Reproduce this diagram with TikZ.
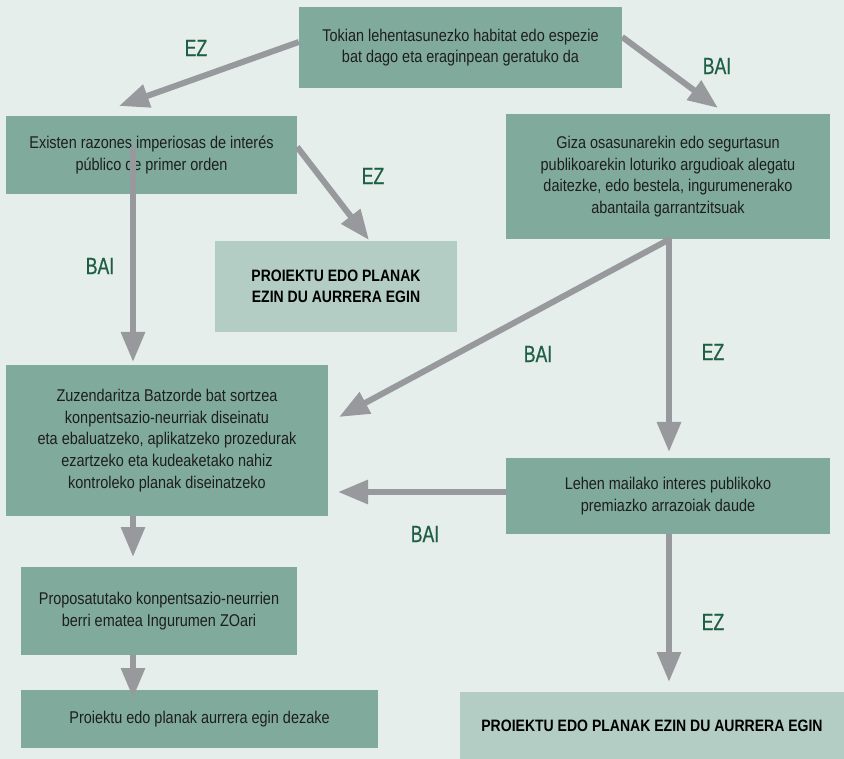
\documentclass[tikz,border=0pt]{standalone}
\usepackage{fontspec}
\setmainfont{Liberation Sans}[FakeStretch=0.85]
\newfontfamily\labfont{Liberation Sans}[FakeStretch=0.75,FakeBold=0.6]
\usetikzlibrary{arrows.meta}
\definecolor{bgc}{HTML}{E5EEEA}
\definecolor{boxc}{HTML}{7FAA9C}
\definecolor{lightc}{HTML}{B3CDC5}
\definecolor{arrc}{HTML}{98999D}
\definecolor{labc}{HTML}{1D5E45}
\definecolor{txtc}{HTML}{1E1E1E}
\begin{document}
\begin{tikzpicture}[x=1pt,y=-1pt,
  box/.style={fill=boxc,draw=none,inner sep=0pt,align=center,text=txtc,
    font=\fontsize{17}{21.7}\selectfont},
  endbox/.style={fill=lightc,draw=none,inner sep=0pt,align=center,text=black,
    font=\fontsize{16.5}{21.5}\selectfont\bfseries},
  lab/.style={text=labc,font=\labfont\fontsize{23.5}{23.5}\selectfont,inner sep=0pt},
  arr/.style={draw=arrc,line width=6pt,-{Triangle[width=23pt,length=30pt]}}]
\fill[bgc] (0,0) rectangle (844,759);
\useasboundingbox (0,0) rectangle (844,759);

\node[box,minimum width=323pt,minimum height=81pt] (b1) at (460.5,47.5)
  {Tokian lehentasunezko habitat edo espezie\\bat dago eta eraginpean geratuko da};
\node[box,minimum width=291pt,minimum height=78pt] (b2) at (151.5,155)
  {Existen razones imperiosas de interés\\público de primer orden};
\node[box,minimum width=324pt,minimum height=125pt] (b3) at (668,176.5)
  {Giza osasunarekin edo segurtasun\\publikoarekin loturiko argudioak alegatu\\daitezke, edo bestela, ingurumenerako\\abantaila garrantzitsuak};
\node[endbox,minimum width=242pt,minimum height=91pt] (e1) at (336,286.5)
  {PROIEKTU EDO PLANAK\\EZIN DU AURRERA EGIN};
\node[box,minimum width=322pt,minimum height=151pt] (b4) at (167,440.5)
  {Zuzendaritza Batzorde bat sortzea\\konpentsazio-neurriak diseinatu\\eta ebaluatzeko, aplikatzeko prozedurak\\ezartzeko eta kudeaketako nahiz\\kontroleko planak diseinatzeko};
\node[box,minimum width=324pt,minimum height=76pt] (b5) at (668,496)
  {Lehen mailako interes publikoko\\premiazko arrazoiak daude};
\node[box,minimum width=276pt,minimum height=88pt] (b6) at (159,611)
  {Proposatutako konpentsazio-neurrien\\berri ematea Ingurumen ZOari};
\node[box,minimum width=357pt,minimum height=58pt] (b7) at (199.5,719)
  {Proiektu edo planak aurrera egin dezake};
\node[endbox,minimum width=384pt,minimum height=67pt] (e2) at (652,725.5)
  {PROIEKTU EDO PLANAK EZIN DU AURRERA EGIN};

% free arrow ends
\coordinate (t1) at (119,106);
\coordinate (t2) at (718,108);
\coordinate (t3) at (369,240);
\coordinate (t4) at (133,362);
\coordinate (t5) at (339,417);
\coordinate (t6) at (669,452);
\coordinate (t7) at (338,492);
\coordinate (t8) at (133,557);
\coordinate (t9) at (133,698);
\coordinate (t10) at (669,682);
\coordinate (s4) at (133,147);
\coordinate (s5) at (670,239);

\draw[arr] (b1.west |- 0,42) -- (t1);
\draw[arr] (b1.east |- 0,37) -- (t2);
\draw[arr] (b2.east |- 0,147) -- (t3);
\draw[arr] (s4) -- (t4);
\draw[arr] (s5) -- (t5);
\draw[arr] (s5 -| 669,0) -- (t6);
\draw[arr] (b5.west |- 0,492) -- (t7);
\draw[arr] (133,0 |- b4.south) -- (t8);
\draw[arr] (133,0 |- b6.south) -- (t9);
\draw[arr] (669,0 |- b5.south) -- (t10);

\node[lab] (l1) at (196,48) {EZ};
\node[lab] (l2) at (717,66) {BAI};
\node[lab] (l3) at (373,176) {EZ};
\node[lab] (l4) at (100,266) {BAI};
\node[lab] (l5) at (538,354) {BAI};
\node[lab] (l6) at (713,352) {EZ};
\node[lab] (l7) at (425,534) {BAI};
\node[lab] (l8) at (713,622) {EZ};
\end{tikzpicture}
\end{document}
